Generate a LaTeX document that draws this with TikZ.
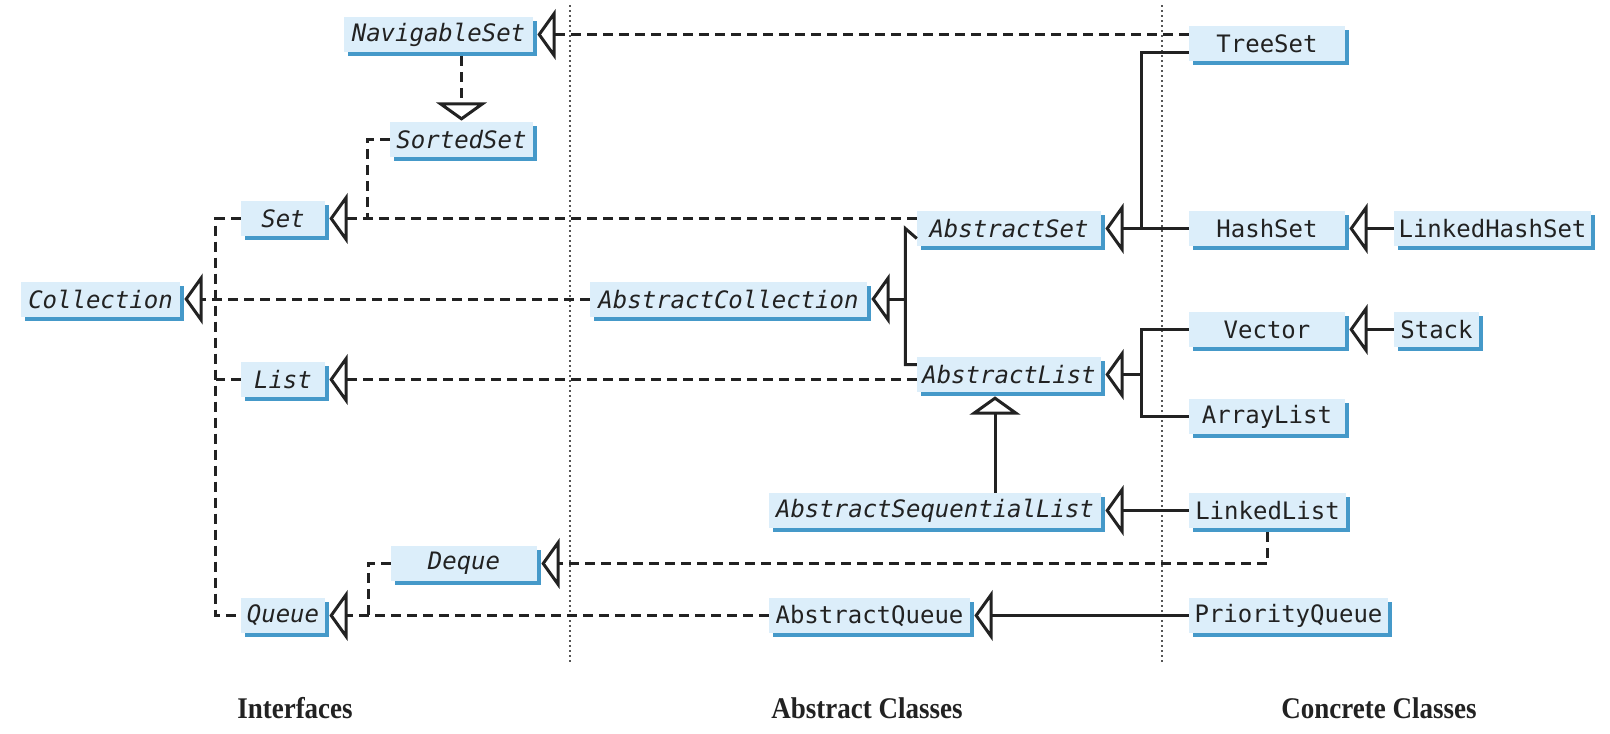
\documentclass[tikz,border=0pt]{standalone}
\usepackage{fontspec}
\newfontfamily\typefont{DejaVu Sans Mono}
\newfontfamily\headfont[FakeStretch=0.9]{Liberation Serif}
\usetikzlibrary{calc,shadows}
\definecolor{boxfill}{HTML}{DCEEFA}
\definecolor{boxshade}{HTML}{4599C9}
\definecolor{ink}{HTML}{222222}
\definecolor{divider}{HTML}{555555}

\begin{document}
\begin{tikzpicture}[x=1pt,y=-1pt,
  cls/.style={fill=boxfill, minimum height=35pt, inner sep=0pt, text=ink,
    font=\typefont\fontsize{24}{24}\selectfont,
    general shadow={shadow xshift=3.5pt, shadow yshift=-4pt, fill=boxshade}},
  iface/.style={cls, font=\typefont\itshape\fontsize{24}{24}\selectfont},
  realize/.style={line width=3pt, draw=ink, dash pattern=on 10pt off 6pt},
  extend/.style={line width=3pt, draw=ink},
  tipline/.style={line width=3pt, draw=ink, fill=white, line join=miter},
  % hollow generalisation triangles: tip at the origin
  tipL/.pic={\draw[tipline] (0,0) -- (15,-21) -- (15,21) -- cycle;},
  tipU/.pic={\draw[tipline] (0,0) -- (-21,15) -- (21,15) -- cycle;},
  tipD/.pic={\draw[tipline] (0,0) -- (-21,-15) -- (21,-15) -- cycle;},
  divline/.style={line width=1.5pt, draw=divider, dash pattern=on 2pt off 3pt},
  head/.style={anchor=base, text=ink, font=\headfont\bfseries\fontsize{30}{30}\selectfont}
]
\useasboundingbox (0,0) rectangle (1610,734);

% column dividers
\draw[divline] (570,5) -- (570,663);
\draw[divline] (1162,5) -- (1162,663);

% interfaces
\node[iface, minimum width=189pt] (nav)    at (438.5,34.5)  {NavigableSet};
\node[iface, minimum width=143pt] (sorted) at (461.5,139.5) {SortedSet};
\node[iface, minimum width=84pt]  (set)    at (283,218.5)   {Set};
\node[iface, minimum width=159pt] (coll)   at (100.5,299)   {Collection};
\node[iface, minimum width=84pt]  (list)   at (283,379.5)   {List};
\node[iface, minimum width=146pt] (deque)  at (464,563.5)   {Deque};
\node[iface, minimum width=84pt]  (queue)  at (283,615.5)   {Queue};

% abstract classes
\node[iface, minimum width=184pt] (aset)   at (1009,228.5)  {AbstractSet};
\node[iface, minimum width=277pt] (acoll)  at (728.5,299)   {AbstractCollection};
\node[iface, minimum width=184pt] (alist)  at (1009,374.5)  {AbstractList};
\node[iface, minimum width=332pt] (aseq)   at (935,510.5)   {AbstractSequentialList};
\node[cls,   minimum width=201pt] (aqueue) at (869.5,615.5) {AbstractQueue};

% concrete classes
\node[cls, minimum width=156pt] (tree)   at (1267,43.5)   {TreeSet};
\node[cls, minimum width=156pt] (hash)   at (1267,228.5)  {HashSet};
\node[cls, minimum width=197pt] (lhash)  at (1492.5,228.5) {LinkedHashSet};
\node[cls, minimum width=156pt] (vector) at (1267,329.5)  {Vector};
\node[cls, minimum width=85pt]  (stack)  at (1436.5,329.5) {Stack};
\node[cls, minimum width=156pt] (array)  at (1267,416.5)  {ArrayList};
\node[cls, minimum width=157pt] (linked) at (1267.5,510.5) {LinkedList};
\node[cls, minimum width=199pt] (pq)     at (1288.5,615.5) {PriorityQueue};

% column captions
\node[head] (capif) at (295,718) {Interfaces};
\node[head] (capab) at (867,718) {Abstract Classes};
\node[head] (capco) at (1379,718) {Concrete Classes};

% bus points
\coordinate (abus) at ($(aset.west)+(-11.5,0)$);
\coordinate (sbus) at ($(hash.west)+(-47.5,0)$);
\coordinate (lbus) at ($(vector.west)+(-47.5,0)$);
\coordinate (sequp) at ($(aseq.north)+(60,0)$);

% interface realisation (dashed)
\draw[realize] ($(tree.west)+(0,-9)$) -- ($(nav.east)+(21,0)$);
\draw[realize] ($(sorted.north |- nav.south)+(0,4)$) -- ($(sorted.north)+(0,-18)$);
\draw[realize] (sorted.west) -| ($(set.east)+(42,0)$);
\draw[realize] ($(aset.west)+(0,-10)$) -- ($(set.east)+(21,0)$);
\draw[realize] (set.west) -- ++(-25,0) |- (queue.west);
\draw[realize] (list.west) -- ++(-25,0);
\draw[realize] (acoll.west) -- ($(coll.east)+(21,0)$);
\draw[realize] ($(alist.west)+(0,5)$) -- ($(list.east)+(21,0)$);
\draw[realize] (deque.west) -| ($(queue.east)+(43,0)$);
\draw[realize] (aqueue.west) -- ($(queue.east)+(21,0)$);
\draw[realize] ($(linked.south)+(0,4)$) |- ($(deque.east)+(21,0)$);

% class inheritance (solid)
\draw[extend] ($(aset.west)+(0,10)$) -- (abus) |- ($(alist.west)+(0,-10)$);
\draw[extend] (abus |- acoll.east) -- ($(acoll.east)+(21,0)$);
\draw[extend] (sequp) -- ($(sequp |- alist.south)+(0,21)$);
\draw[extend] (linked.west) -- ($(aseq.east)+(21,0)$);
\draw[extend] (pq.west) -- ($(aqueue.east)+(21,0)$);
\draw[extend] ($(tree.west)+(0,9)$) -| (sbus);
\draw[extend] (hash.west) -- ($(aset.east)+(21,0)$);
\draw[extend] (lhash.west) -- ($(hash.east)+(21,0)$);
\draw[extend] (vector.west) -- (lbus) |- (array.west);
\draw[extend] (lbus |- alist.east) -- ($(alist.east)+(21,0)$);
\draw[extend] (stack.west) -- ($(vector.east)+(21,0)$);

% generalisation triangles at the parent ends
\pic at ($(nav.east)+(6,0)$) {tipL};
\pic at ($(sorted.north)+(0,-3)$) {tipD};
\pic at ($(set.east)+(6,0)$) {tipL};
\pic at ($(coll.east)+(6,0)$) {tipL};
\pic at ($(list.east)+(6,0)$) {tipL};
\pic at ($(deque.east)+(6,0)$) {tipL};
\pic at ($(queue.east)+(6,0)$) {tipL};
\pic at ($(acoll.east)+(6,0)$) {tipL};
\pic at ($(sequp |- alist.south)+(0,6)$) {tipU};
\pic at ($(aseq.east)+(6,0)$) {tipL};
\pic at ($(aqueue.east)+(6,0)$) {tipL};
\pic at ($(aset.east)+(6,0)$) {tipL};
\pic at ($(hash.east)+(6,0)$) {tipL};
\pic at ($(alist.east)+(6,0)$) {tipL};
\pic at ($(vector.east)+(6,0)$) {tipL};
\end{tikzpicture}
\end{document}
